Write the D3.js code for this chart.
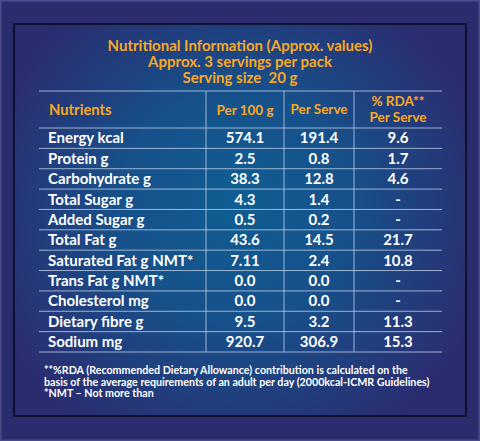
<!DOCTYPE html>
<html><head><meta charset="utf-8">
<script src="https://cdn.jsdelivr.net/npm/d3@7/dist/d3.min.js"></script>
<style>
html,body{margin:0;padding:0;background:#2b2c6e;}
svg{display:block;}
text{font-family:Lato,"Open Sans",sans-serif;font-weight:700;white-space:pre;}
</style></head>
<body>
<svg id="c" width="480" height="441"></svg>
<script>
const titleLines = ["Nutritional Information (Approx. values)", "Approx. 3 servings per pack", "Serving size  20 g"];
const headers = ["Nutrients", "Per 100 g", "Per Serve", ["% RDA**", "Per Serve"]];
const nutrients = ["Energy kcal","Protein g","Carbohydrate g","Total Sugar g","Added Sugar g","Total Fat g","Saturated Fat g NMT*","Trans Fat g NMT*","Cholesterol mg","Dietary fibre g","Sodium mg"];
const per100 = ["574.1","2.5","38.3","4.3","0.5","43.6","7.11","0.0","0.0","9.5","920.7"];
const perServe = ["191.4","0.8","12.8","1.4","0.2","14.5","2.4","0.0","0.0","3.2","306.9"];
const rda = ["9.6","1.7","4.6","-","-","21.7","10.8","-","-","11.3","15.3"];
const footnotes = ["**%RDA (Recommended Dietary Allowance) contribution is calculated on the",
  "basis of the average requirements of an adult per day (2000kcal-ICMR Guidelines)",
  "*NMT \u2013 Not more than"];

const svg = d3.select("#c");
const defs = svg.append("defs");
const rg = defs.append("radialGradient").attr("id","bg").attr("gradientUnits","userSpaceOnUse")
  .attr("cx",235).attr("cy",215).attr("r",260).attr("fx",235).attr("fy",200);
rg.append("stop").attr("offset","0").attr("stop-color","#0f5e93");
rg.append("stop").attr("offset","0.45").attr("stop-color","#17508a");
rg.append("stop").attr("offset","1").attr("stop-color","#2b2c70");

svg.append("rect").attr("x",0).attr("y",0).attr("width",480).attr("height",441).attr("fill","#2b2c6e");
svg.append("rect").attr("x",0.75).attr("y",0.75).attr("width",478.5).attr("height",439.5).attr("fill","none").attr("stroke","#4b4c88").attr("stroke-width",1.5);
svg.append("rect").attr("x",14).attr("y",24).attr("width",452).attr("height",392).attr("fill","url(#bg)");
svg.append("rect").attr("x",14).attr("y",24).attr("width",452).attr("height",392).attr("fill","none").attr("stroke","#0a0a1e").attr("stroke-width",1.6);

svg.append("g").selectAll("text").data(titleLines).join("text")
  .attr("x",240).attr("y",(d,i)=>50.5+i*16.2).attr("text-anchor","middle")
  .attr("fill","#f7a823").attr("font-size",15).text(d=>d);

const x = d3.scaleOrdinal().domain([0,1,2,3,4]).range([39,206,284,354,442]);
const y = d3.scaleBand().domain(d3.range(nutrients.length)).range([128,352]);
const headerTop = 91;
const lineColor = "rgba(200,215,235,0.75)";

const g = svg.append("g");
const hLines = [headerTop, ...d3.range(nutrients.length).map(i=>y(i)), y(nutrients.length-1)+y.bandwidth()];
g.selectAll("line.h").data(hLines).join("line").attr("class","h")
  .attr("x1",x(0)).attr("x2",x(4)).attr("y1",d=>d).attr("y2",d=>d)
  .attr("stroke",lineColor).attr("stroke-width",1);
g.selectAll("line.v").data([1,2,3]).join("line").attr("class","v")
  .attr("x1",d=>x(d)).attr("x2",d=>x(d)).attr("y1",headerTop).attr("y2",hLines[hLines.length-1])
  .attr("stroke",lineColor).attr("stroke-width",1);

const hc = "#f7a823";
const hs = 13.5;
g.append("text").attr("x",49).attr("y",115).attr("fill",hc).attr("font-size",14.8).text(headers[0]);
g.append("text").attr("x",(x(1)+x(2))/2).attr("y",115).attr("text-anchor","middle").attr("fill",hc).attr("font-size",hs).text(headers[1]);
g.append("text").attr("x",(x(2)+x(3))/2).attr("y",114).attr("text-anchor","middle").attr("fill",hc).attr("font-size",hs).text(headers[2]);
g.append("text").attr("x",(x(3)+x(4))/2).attr("y",106).attr("text-anchor","middle").attr("fill",hc).attr("font-size",hs).text(headers[3][0]);
g.append("text").attr("x",(x(3)+x(4))/2).attr("y",122).attr("text-anchor","middle").attr("fill",hc).attr("font-size",hs).text(headers[3][1]);

const cols = [per100, perServe, rda];
const rows = g.selectAll("g.row").data(nutrients).join("g").attr("class","row")
  .attr("transform",(d,i)=>`translate(0,${y(i)+y.bandwidth()/2+5.3})`);
rows.append("text").attr("x",48).attr("fill","#ffffff").attr("font-size",15).attr("font-weight",900).text(d=>d);
cols.forEach((arr,ci)=>{
  rows.append("text").attr("x",(x(ci+1)+x(ci+2))/2).attr("text-anchor","middle")
    .attr("fill","#ffffff").attr("font-size",15).attr("font-weight",900).text((d,i)=>arr[i]);
});

svg.append("g").selectAll("text").data(footnotes).join("text")
  .attr("x",44).attr("y",(d,i)=>373.8+i*11.7).attr("fill","#ffffff").attr("font-size",10.7).text(d=>d);
</script>
</body></html>
